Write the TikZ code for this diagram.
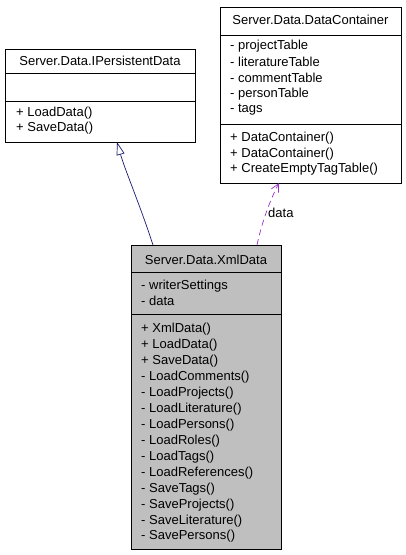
\documentclass[tikz,border=0pt]{standalone}
\usepackage{fontspec}
\setmainfont{Liberation Sans}
\usetikzlibrary{arrows.meta}
\definecolor{inhcol}{HTML}{191970}
\definecolor{usecol}{HTML}{9A32CD}
\definecolor{boxgray}{HTML}{BFBFBF}
\begin{document}
\begin{tikzpicture}[x=1pt,y=-1pt,
  member/.style={anchor=west,inner sep=0pt,font=\fontsize{13}{15}\selectfont},
  title/.style={inner sep=0pt,font=\fontsize{13}{15}\selectfont},
  cls/.style={draw=black,line width=0.8pt,inner sep=0pt,anchor=north west},
  sep/.style={line width=0.8pt}]
\useasboundingbox (0,0) rectangle (405,555);
% IPersistentData
\node[cls,minimum width=190pt,minimum height=93pt] (ip) at (5,49) {};
\draw[sep] (5,73) -- (195,73);
\draw[sep] (5,101) -- (195,101);
\node[title] (ipt) at (100,61) {Server.Data.IPersistentData};
\node[member] (ip1) at (16,113) {+ LoadData()};
\node[member] (ip2) at (16,128) {+ SaveData()};
% DataContainer
\node[cls,minimum width=181pt,minimum height=176pt] (dc) at (220,7) {};
\draw[sep] (220,35) -- (401,35);
\draw[sep] (220,124) -- (401,124);
\node[title] (dct) at (310.5,20) {Server.Data.DataContainer};
\node[member] (dc1) at (230,46) {- projectTable};
\node[member] (dc2) at (230,62) {- literatureTable};
\node[member] (dc3) at (230,78) {- commentTable};
\node[member] (dc4) at (230,94) {- personTable};
\node[member] (dc5) at (230,110) {- tags};
\node[member] (dc6) at (230,138) {+ DataContainer()};
\node[member] (dc7) at (230,154) {+ DataContainer()};
\node[member] (dc8) at (230,169) {+ CreateEmptyTagTable()};
% XmlData
\node[cls,fill=boxgray,minimum width=150pt,minimum height=304pt] (xd) at (131,245) {};
\draw[sep] (131,272) -- (281,272);
\draw[sep] (131,314) -- (281,314);
\node[title] (xdt) at (206,260) {Server.Data.XmlData};
\node[member] (xa1) at (141,286) {- writerSettings};
\node[member] (xa2) at (141,301) {- data};
\foreach \t [count=\i from 0] in {+ XmlData(),+ LoadData(),+ SaveData(),- LoadComments(),- LoadProjects(),- LoadLiterature(),- LoadPersons(),- LoadRoles(),- LoadTags(),- LoadReferences(),- SaveTags(),- SaveProjects(),- SaveLiterature(),- SavePersons()}
  \node[member] (xm\i) at (141,329+15.97*\i) {\t};
% connectors
\coordinate (inhs) at (153,245);
\coordinate (inhe) at (117,142);
\draw[inhcol,line width=0.7pt,-{Triangle[open,length=13pt,width=8pt]}] (inhs) .. controls (140,205) and (125,170) .. (inhe);
\coordinate (uses) at (257,245);
\coordinate (usee) at (279,183);
\draw[usecol,line width=0.7pt,dashed,dash pattern=on 6pt off 4pt,-{Straight Barb[length=8pt,width=8pt]}] (uses) .. controls (262,222) and (270,200) .. (usee);
\node[title,anchor=west] (lbl) at (268,213) {data};
\end{tikzpicture}
\end{document}
